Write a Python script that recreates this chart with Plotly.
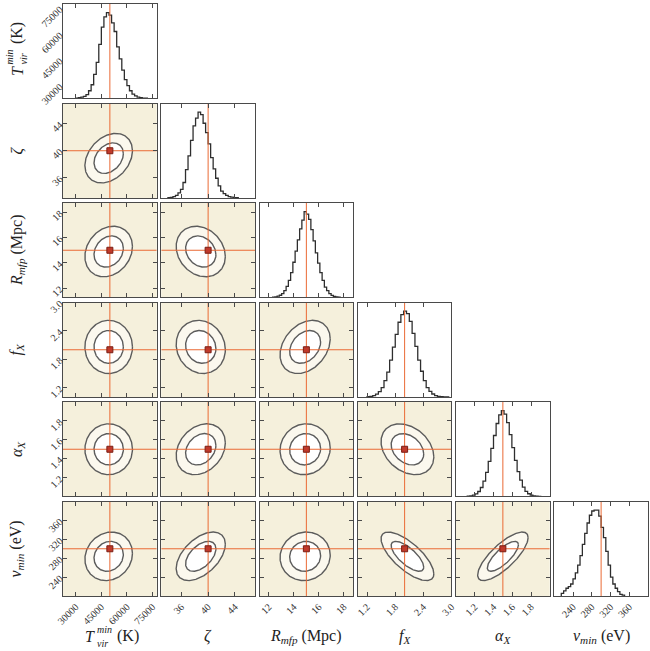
import numpy as np
import plotly.graph_objects as go
from plotly.subplots import make_subplots

# ---------------------------------------------------------------------------
# Parameters: T_vir^min, zeta, R_mfp, f_X, alpha_X, nu_min
# ---------------------------------------------------------------------------
truth = [50000.0, 40.0, 15.0, 2.0, 1.5, 300.0]
axis_range = [[22500, 77500], [33.0, 47.0], [11.25, 18.75],
              [1.0, 3.0], [1.0, 2.0], [200.0, 400.0]]
tick_vals = [[30000, 45000, 60000, 75000], [36, 40, 44], [12, 14, 16, 18],
             [1.2, 1.8, 2.4, 3.0], [1.2, 1.4, 1.6, 1.8], [240, 280, 320, 360]]
tick_text = [["30000", "45000", "60000", "75000"], ["36", "40", "44"],
             ["12", "14", "16", "18"], ["1.2", "1.8", "2.4", "3.0"],
             ["1.2", "1.4", "1.6", "1.8"], ["240", "280", "320", "360"]]

# Marginal histograms: lower edge of the first bin, bin width, counts
hist_start = [30000.0, 34.0, 12.3, 1.2, 1.12, 215.0]
hist_width = [1500.0, 0.375, 0.18, 0.06, 0.028, 5.0]
t_vir_counts = [0.5, 1, 1.5, 2.5, 4.5, 9, 16, 28, 42, 63, 83, 95, 100, 97,
                88, 78, 60, 46, 33, 22, 15, 9, 5, 3, 1.5, 1, 0.5, 0.3]
zeta_counts = [0.5, 0.8, 1.5, 3, 6, 10, 18, 33, 49, 67, 84, 93, 100, 97,
               87, 76, 63, 47, 34, 23, 14, 8, 5, 3, 1.5, 1, 0.5, 0.3]
rmfp_counts = [0.4, 0.8, 1.5, 2.6, 4.5, 8, 13, 20, 29, 41, 54, 67, 80, 90,
               100, 97, 91, 79, 66, 52, 40, 29, 20, 12, 8, 4.5, 2.5, 1.4,
               0.7, 0.3]
fx_counts = [0.3, 0.7, 1.6, 3.3, 6.3, 11, 19, 29, 43, 58, 73, 87, 96, 100,
             97, 88, 74, 59, 43, 30, 19, 11, 6.5, 3.5, 1.7, 0.8, 0.4, 0.2,
             0.1]
alphax_counts = [0.3, 0.7, 1.5, 3, 5.8, 10.5, 18, 28, 41, 56, 71, 85, 95,
                 100, 96, 86, 72, 57, 42, 29, 19, 11, 6, 3.2, 1.6, 0.8, 0.4,
                 0.2]
numin_counts = [3, 6, 9, 11, 14, 20, 27, 36, 47, 60, 73, 85, 94, 99, 100,
                100, 93, 80, 68, 52, 36, 22, 14, 9, 5, 2, 1]
hist_counts = [t_vir_counts, zeta_counts, rmfp_counts, fx_counts,
               alphax_counts, numin_counts]

# Posterior summary used for the 2D credible regions
post_mean = [49300.0, 38.9, 14.9, 2.06, 1.5, 284.0]
post_sigma = [5700.0, 1.5, 0.82, 0.23, 0.11, 21.0]
post_corr = [
    [1.00, 0.30, 0.20, 0.00, 0.00, 0.12],
    [0.30, 1.00, -0.20, -0.10, 0.25, 0.50],
    [0.20, -0.20, 1.00, 0.30, 0.05, 0.05],
    [0.00, -0.10, 0.30, 1.00, -0.30, -0.72],
    [0.00, 0.25, 0.05, -0.30, 1.00, 0.77],
    [0.12, 0.50, 0.05, -0.72, 0.77, 1.00],
]
credible_levels = [0.95, 0.68]

# ---------------------------------------------------------------------------
SERIF = "Liberation Serif"
BEIGE = "#f5f0dc"
FILLS = ["#fbf8ee", "#ffffff"]
FRAME = "#4a4a4a"
CONTOUR = "#5c5c5c"
HIST = "#2e2e2e"
TRUTH = "#ea6a35"
MARK = "#c0392b"

N = 6
fig = make_subplots(rows=N, cols=N, horizontal_spacing=0.0077,
                    vertical_spacing=0.0085)


def aid(r, c):
    n = r * N + c + 1
    return "" if n == 1 else str(n)


theta = np.linspace(0.0, 2.0 * np.pi, 241)

for r in range(N):
    for c in range(N):
        k = aid(r, c)
        xa, ya = "xaxis" + k, "yaxis" + k
        if c > r:
            fig.layout[xa].visible = False
            fig.layout[ya].visible = False
            continue
        base = dict(showline=True, linecolor=FRAME, linewidth=1.2,
                    mirror="ticks", showgrid=False, zeroline=False,
                    ticks="inside", ticklen=4, tickwidth=1, tickcolor=FRAME,
                    tickangle=-45,
                    tickfont=dict(family=SERIF, size=10, color="#333"))
        fig.layout[xa].update(base, range=axis_range[c], tickvals=tick_vals[c],
                              ticktext=tick_text[c], showticklabels=(r == N - 1))
        if r == c:
            counts = np.asarray(hist_counts[r], dtype=float)
            edges = hist_start[r] + hist_width[r] * np.arange(len(counts) + 1)
            xs = np.concatenate([[edges[0]], edges[:-1], [edges[-1]]])
            ys = np.concatenate([[0.0], counts, [0.0]])
            ytop = 1.1 * counts.max()
            fig.add_trace(go.Scatter(x=xs, y=ys, mode="lines",
                                     line=dict(shape="hv", color=HIST, width=1.3),
                                     hoverinfo="skip", showlegend=False),
                          row=r + 1, col=c + 1)
            fig.add_trace(go.Scatter(x=[truth[c], truth[c]], y=[0, ytop],
                                     mode="lines", line=dict(color=TRUTH, width=1),
                                     hoverinfo="skip", showlegend=False),
                          row=r + 1, col=c + 1)
            ycfg = dict(base, range=[0, ytop], ticks="")
            if r == 0:
                lo, hi = axis_range[0]
                ycfg.update(tickvals=[(t - lo) / (hi - lo) * ytop for t in tick_vals[0]],
                            ticktext=tick_text[0], showticklabels=True)
            else:
                ycfg.update(showticklabels=False)
            fig.layout[ya].update(ycfg)
            continue

        # two-parameter panel
        fig.add_shape(type="rect", xref="x" + k + " domain", yref="y" + k + " domain",
                      x0=0, x1=1, y0=0, y1=1, fillcolor=BEIGE, line_width=0,
                      layer="below")
        mx, my = post_mean[c], post_mean[r]
        sx, sy = post_sigma[c], post_sigma[r]
        rho = post_corr[r][c]
        for lev, fc in zip(credible_levels, FILLS):
            rad = np.sqrt(-2.0 * np.log(1.0 - lev))
            ex = mx + rad * sx * np.cos(theta)
            ey = my + rad * sy * (rho * np.cos(theta)
                                  + np.sqrt(1 - rho ** 2) * np.sin(theta))
            fig.add_trace(go.Scatter(x=ex, y=ey, mode="lines", fill="toself",
                                     fillcolor=fc,
                                     line=dict(color=CONTOUR, width=1.4),
                                     hoverinfo="skip", showlegend=False),
                          row=r + 1, col=c + 1)
        fig.add_trace(go.Scatter(x=[truth[c], truth[c]], y=axis_range[r],
                                 mode="lines", line=dict(color=TRUTH, width=1),
                                 hoverinfo="skip", showlegend=False),
                      row=r + 1, col=c + 1)
        fig.add_trace(go.Scatter(x=axis_range[c], y=[truth[r], truth[r]],
                                 mode="lines", line=dict(color=TRUTH, width=1),
                                 hoverinfo="skip", showlegend=False),
                      row=r + 1, col=c + 1)
        fig.add_trace(go.Scatter(x=[truth[c]], y=[truth[r]], mode="markers",
                                 marker=dict(symbol="square", size=6, color=MARK,
                                             line=dict(color="#7a1e14", width=1)),
                                 hoverinfo="skip", showlegend=False),
                      row=r + 1, col=c + 1)
        fig.layout[ya].update(base, range=axis_range[r], tickvals=tick_vals[r],
                              ticktext=tick_text[r], showticklabels=(c == 0))

# ---------------------------------------------------------------------------
# Axis titles
# ---------------------------------------------------------------------------
tfont = dict(family=SERIF, size=16, color="#222")
sfont = dict(family=SERIF, size=10, color="#222")
titles = [None, "<i>ζ</i>", "<i>R</i><sub><i>mfp</i></sub> (Mpc)",
          "<i>f</i><sub><i>X</i></sub>", "<i>α</i><sub><i>X</i></sub>",
          "<i>ν</i><sub><i>min</i></sub> (eV)"]
x_title_y = -0.0676
y_title_x = -0.079

# T_vir^min (K) built from pieces so that the sub- and superscript stack:
# (text, font, shift along the text, shift across it)
t_pieces = [("<i>T</i>", tfont, -27, 0), ("<i>min</i>", sfont, -15, 7),
            ("<i>vir</i>", sfont, -15, -7), ("(K)", tfont, 5, 0)]

ann = []
for i in range(N):
    xd = fig.layout["xaxis" + aid(N - 1, i)].domain
    yd = fig.layout["yaxis" + aid(i, 0)].domain
    cx = 0.5 * (xd[0] + xd[1])
    cy = 0.5 * (yd[0] + yd[1])
    if i == 0:
        for txt, fnt, along, across in t_pieces:
            ann.append(dict(x=cx, y=x_title_y, xref="paper", yref="paper",
                            xanchor="left", yanchor="middle", xshift=along,
                            yshift=across, showarrow=False, font=fnt, text=txt))
            ann.append(dict(x=y_title_x, y=cy, xref="paper", yref="paper",
                            xanchor="center", yanchor="bottom", yshift=along,
                            xshift=-across, textangle=-90, showarrow=False,
                            font=fnt, text=txt))
    else:
        ann += [
            dict(x=cx, y=x_title_y, xref="paper", yref="paper", xanchor="center",
                 yanchor="middle", showarrow=False, font=tfont, text=titles[i]),
            dict(x=y_title_x, y=cy, xref="paper", yref="paper", xanchor="center",
                 yanchor="middle", textangle=-90, showarrow=False, font=tfont,
                 text=titles[i]),
        ]

fig.update_layout(width=650, height=651,
                  margin=dict(l=63, r=2, t=4, b=55, autoexpand=False),
                  paper_bgcolor="white", plot_bgcolor="white",
                  annotations=ann, showlegend=False)

fig.write_html("out.html")
